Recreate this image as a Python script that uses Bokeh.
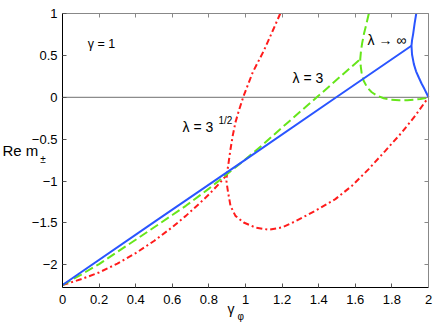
from bokeh.plotting import figure
from bokeh.models import Label, LinearAxis, FixedTicker
from bokeh.embed import file_html
from bokeh.resources import INLINE

# ---- data ----
x_ticks = [0, 0.2, 0.4, 0.6, 0.8, 1, 1.2, 1.4, 1.6, 1.8, 2]
x_tick_labels = ["0", "0.2", "0.4", "0.6", "0.8", "1", "1.2", "1.4", "1.6", "1.8", "2"]
y_ticks = [-2, -1.5, -1, -0.5, 0, 0.5, 1]
y_tick_labels = ["\u22122", "\u22121.5", "\u22121", "\u22120.5", "0", "0.5", "1"]
x_lim = (0, 2)
y_lim = (-2.27, 1)

# lambda -> infinity (blue, solid)
inf_line_g = [0, 0.5, 1.0, 1.5, 1.907]
inf_line_m = [-2.24, -1.49, -0.743, 0.006, 0.615]
inf_arc_g = [1.933, 1.924, 1.916, 1.910, 1.907, 1.910, 1.920, 1.932, 1.947, 1.962, 1.978, 1.990, 2.0]
inf_arc_m = [1.0, 0.88, 0.754, 0.68, 0.615, 0.51, 0.396, 0.31, 0.236, 0.165, 0.098, 0.045, 0.0]

# lambda = 3 (green, dashed)
l3_line_g = [0, 0.1, 0.2, 0.4, 0.6, 0.674, 0.8, 0.854, 0.9, 1.0, 1.09, 1.2, 1.4, 1.627]
l3_line_m = [-2.24, -2.118, -1.99, -1.70, -1.405, -1.295, -1.09, -0.997, -0.915, -0.74, -0.575,
             -0.36, 0.02, 0.456]
l3_arc_g = [1.674, 1.660, 1.647, 1.637, 1.631, 1.627, 1.629, 1.634, 1.645, 1.665, 1.690, 1.72,
            1.755, 1.793, 1.84, 1.884, 1.925, 1.956, 1.985, 2.0]
l3_arc_m = [1.0, 0.87, 0.754, 0.64, 0.55, 0.456, 0.38, 0.30, 0.2, 0.117, 0.06, 0.018,
            -0.012, -0.03, -0.036, -0.034, -0.028, -0.02, -0.008, 0.0]

# lambda = 3^(1/2) (red, dash-dot)
ls_line_g = [0, 0.1, 0.2, 0.3, 0.4, 0.5, 0.6, 0.674, 0.75, 0.8, 0.854, 0.9]
ls_line_m = [-2.24, -2.172, -2.09, -1.985, -1.86, -1.715, -1.55, -1.415, -1.263, -1.16, -1.036, -0.92]
ls_arc_g = [1.19, 1.15, 1.10, 1.04, 0.99, 0.965, 0.945, 0.93, 0.918, 0.905, 0.898, 0.896,
            0.899, 0.905, 0.918, 0.945, 0.990, 1.054, 1.127, 1.200, 1.272, 1.381, 1.491,
            1.582, 1.673, 1.764, 1.854, 1.927, 1.973, 2.0]
ls_arc_m = [1.0, 0.8, 0.555, 0.3, 0.018, -0.15, -0.30, -0.46, -0.62, -0.82, -0.92, -1.0,
            -1.05, -1.136, -1.295, -1.415, -1.494, -1.554, -1.58, -1.552, -1.48, -1.355, -1.215,
            -1.056, -0.857, -0.639, -0.420, -0.221, -0.081, 0.0]

BLUE = "#2a55ff"
GREEN = "#66e61a"
RED = "#ff1c1c"
FONT = "Liberation Sans"

# frame fills the whole canvas; the axes box is drawn with fixed-location axes
p = figure(width=436, height=327, x_range=(-0.3388, 2.0437), y_range=(-2.747, 1.155),
           output_backend="svg", toolbar_location=None,
           x_axis_location=None, y_axis_location=None,
           min_border=0, min_border_left=0, min_border_right=0,
           min_border_top=0, min_border_bottom=0)
p.xgrid.visible = False
p.ygrid.visible = False
p.outline_line_color = None
p.background_fill_color = "white"
p.border_fill_color = "white"


def make_axis(loc, ticks, labels, bounds, color, show_labels):
    ax = LinearAxis(fixed_location=loc, bounds=bounds, ticker=FixedTicker(ticks=ticks),
                    major_tick_in=4, major_tick_out=0, minor_tick_line_color=None,
                    axis_line_color=color, axis_line_width=1,
                    major_tick_line_color="#555555" if show_labels else color,
                    major_label_text_font=FONT, major_label_text_font_size="13px",
                    major_label_text_color="black",
                    major_label_overrides={float(t): (s if show_labels else "")
                                           for t, s in zip(ticks, labels)})
    return ax


bottom = make_axis(y_lim[0], x_ticks, x_tick_labels, x_lim, "black", True)
bottom.major_label_standoff = 7
left = make_axis(x_lim[0], y_ticks, y_tick_labels, y_lim, "black", True)
left.major_label_standoff = 5
top = make_axis(y_lim[1], x_ticks, x_tick_labels, x_lim, "#888888", False)
right = make_axis(x_lim[1], y_ticks, y_tick_labels, y_lim, "#888888", False)
p.add_layout(bottom, "below")
p.add_layout(left, "left")
p.add_layout(top, "above")
p.add_layout(right, "right")

# zero reference line across the axes box
p.segment(x0=[x_lim[0]], y0=[0], x1=[x_lim[1]], y1=[0], line_color="#8c8c8c", line_width=1.3,
          level="underlay")

p.line(ls_line_g, ls_line_m, line_color=RED, line_width=2, line_dash="6 3 2 3")
p.line(ls_arc_g, ls_arc_m, line_color=RED, line_width=2, line_dash="6 3 2 3")
p.line(l3_line_g, l3_line_m, line_color=GREEN, line_width=2, line_dash="9 4")
p.line(l3_arc_g, l3_arc_m, line_color=GREEN, line_width=2, line_dash="9 4")
p.line(inf_line_g, inf_line_m, line_color=BLUE, line_width=2)
p.line(inf_arc_g, inf_arc_m, line_color=BLUE, line_width=2)


def lab(x, y, text, size):
    p.add_layout(Label(x=x, y=y, text=text, text_font=FONT, text_font_size=size,
                       text_align="left", text_baseline="middle", text_color="black"))


lab(0.138, 0.634, "\u03b3 = 1", "12.5px")
lab(1.257, 0.230, "\u03bb = 3", "14px")
lab(0.656, -0.352, "\u03bb = 3", "14px")
lab(0.852, -0.277, "1/2", "10px")
lab(1.667, 0.678, "\u03bb \u2192 \u221e", "14px")
lab(-0.328, -0.635, "Re m", "15px")
lab(-0.122, -0.746, "\u00b1", "10px")
lab(0.902, -2.521, "\u03b3", "14px")
lab(0.956, -2.616, "\u03c6", "10px")

open("out.html", "w").write(file_html(p, INLINE))
